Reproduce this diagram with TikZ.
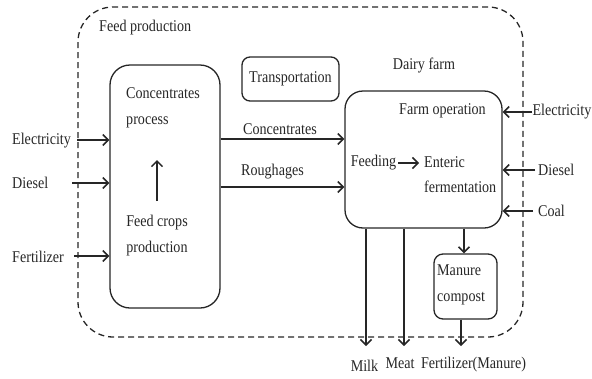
\documentclass[tikz,border=0pt]{standalone}
\usepackage{fontspec}
\setmainfont[FakeStretch=0.86]{Liberation Serif}
\usetikzlibrary{arrows.meta}
\begin{document}
\begin{tikzpicture}[x=1pt,y=-1pt,
  ink/.style={draw=black!85},
  txt/.style={inner sep=0pt,font={\fontsize{16.4}{25.5}\selectfont},text=black!85},
  boxs/.style={ink,line width=1.3pt,inner sep=0pt},
  arr/.style={ink,line width=1.5pt,-{Straight Barb[length=5.5pt,width=11pt,line width=1.5pt]}},
  dashbox/.style={ink,line width=1.3pt,dash pattern=on 6pt off 4pt,rounded corners=35pt,minimum width=445pt,minimum height=330pt,inner sep=0pt}
]
\useasboundingbox (0,0) rectangle (592,378);
% outer dashed boundary
\node[dashbox] (outer) at (300.5,172) {};
\node[txt,anchor=west] (fp) at (99,28) {Feed production};
% feed box
\node[boxs,rounded corners=20pt,minimum width=110pt,minimum height=243pt] (cp) at (165,186.5) {};
\node[txt,anchor=west,align=left] (cpt) at (126,108) {Concentrates\\process};
\node[txt,align=center] (fct) at (157,235.5) {Feed crops\\production};
\coordinate (upS) at (157,201);
\coordinate (upE) at (157,160);
\draw[arr] (upS) -- (upE);
% left inputs
\node[txt,anchor=west] (elL) at (12,141) {Electricity};
\node[txt,anchor=west] (diL) at (12,183) {Diesel};
\node[txt,anchor=west] (feL) at (12,257) {Fertilizer};
\coordinate (elLs) at (77,140);
\coordinate (diLs) at (72,183);
\coordinate (feLs) at (74,256);
\draw[arr] (elLs) -- (elLs -| cp.west);
\draw[arr] (diLs) -- (diLs -| cp.west);
\draw[arr] (feLs) -- (feLs -| cp.west);
% transportation
\node[boxs,rounded corners=8pt,minimum width=97pt,minimum height=44pt,txt] (tr) at (290.5,79) {Transportation};
% dairy farm
\node[txt] (df) at (424,65) {Dairy farm};
\node[boxs,rounded corners=18pt,minimum width=157pt,minimum height=137pt] (farm) at (423.5,159.5) {};
\node[txt] (fo) at (442.5,111) {Farm operation};
\node[txt] (feed) at (373.5,163) {Feeding};
\node[txt,anchor=west,align=left] (ent) at (424,174.5) {Enteric\\fermentation};
\draw[arr,shorten <=2pt,shorten >=5pt] (feed.east) -- (feed.east -| ent.west);
% flows between
\coordinate (conS) at (220,139);
\coordinate (rouS) at (220,187);
\draw[arr] (conS -| cp.east) -- (conS -| farm.west);
\draw[arr] (rouS -| cp.east) -- (rouS -| farm.west);
\node[txt] (cont) at (280,129) {Concentrates};
\node[txt] (rout) at (272.5,172) {Roughages};
% right inputs
\node[txt,anchor=east] (elR) at (591.5,112) {Electricity};
\node[txt,anchor=west] (diR) at (538,170) {Diesel};
\node[txt,anchor=west] (coR) at (538,211) {Coal};
\coordinate (elRs) at (532,112);
\coordinate (diRs) at (535,170);
\coordinate (coRs) at (533,211);
\draw[arr] (elRs) -- (elRs -| farm.east);
\draw[arr] (diRs) -- (diRs -| farm.east);
\draw[arr] (coRs) -- (coRs -| farm.east);
% manure
\node[boxs,rounded corners=9pt,minimum width=63pt,minimum height=65pt] (mc) at (465.5,286.5) {};
\node[txt,anchor=west,align=left] (mct) at (437,285) {Manure\\compost};
\coordinate (mcA) at (464,228);
\draw[arr] (mcA |- farm.south) -- (mcA |- mc.north);
% outputs
\node[txt] (milk) at (364.5,366) {Milk};
\node[txt] (meat) at (400,363) {Meat};
\node[txt] (fm) at (473.5,365) {Fertilizer(Manure)};
\coordinate (milkT) at (366,346);
\coordinate (meatT) at (404,346);
\coordinate (fmT) at (461,346);
\draw[arr] (milkT |- farm.south) -- (milkT);
\draw[arr] (meatT |- farm.south) -- (meatT);
\draw[arr] (fmT |- mc.south) -- (fmT);
\end{tikzpicture}
\end{document}
